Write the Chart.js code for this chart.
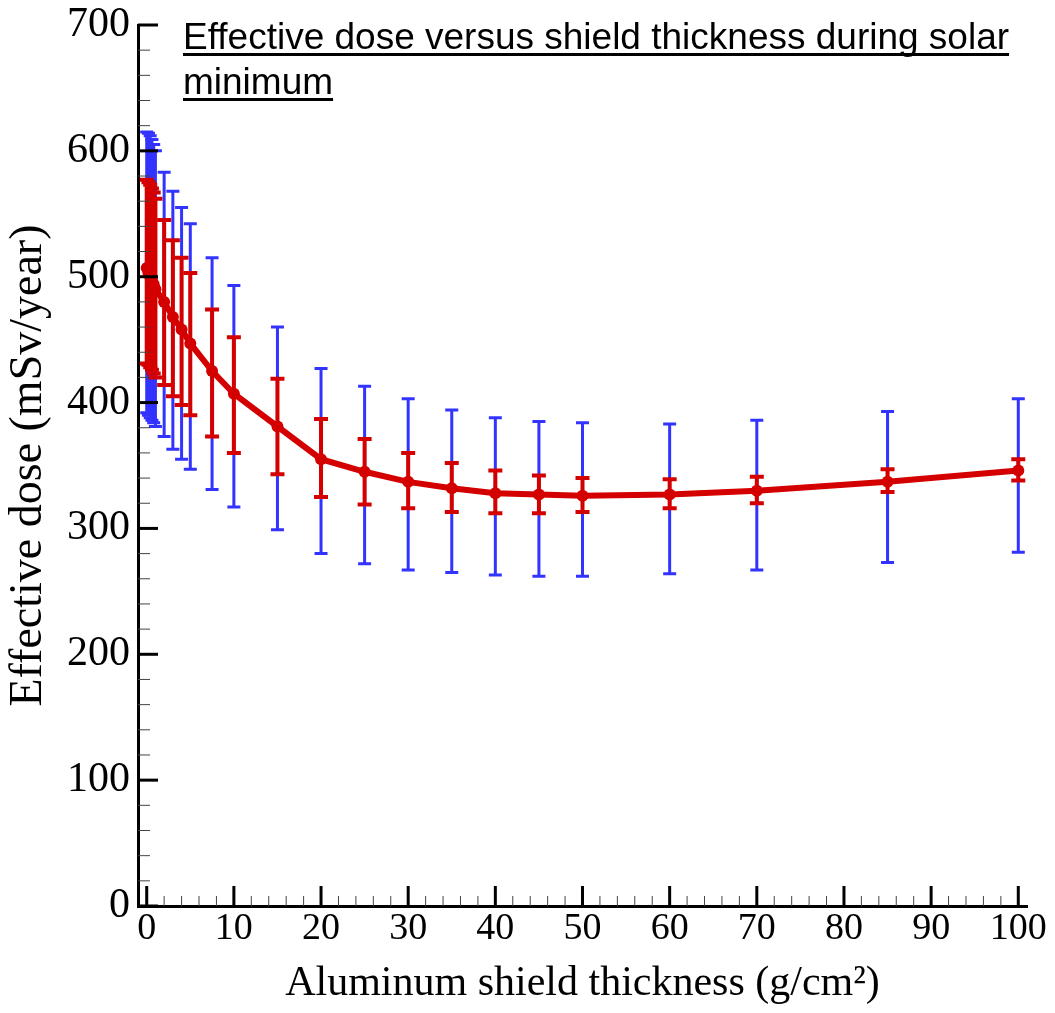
<!DOCTYPE html>
<html>
<head>
<meta charset="utf-8">
<script src="https://cdn.jsdelivr.net/npm/chart.js@4.4.0/dist/chart.umd.min.js"></script>
<style>
  body { margin: 0; background: #fff; }
  #wrap { width: 1055px; height: 1013px; }
</style>
</head>
<body>
<div id="wrap"><canvas id="grafico"></canvas></div>
<script>
// datos
const espesor = [0, 0.2, 0.4, 0.6, 0.8, 1, 2, 3, 4, 5, 7.5, 10, 15, 20, 25, 30, 35, 40, 45, 50, 60, 70, 85, 100];
const dosis   = [507, 503, 500, 497, 494, 490, 480, 468, 458, 447, 425, 407, 381, 355, 345, 337, 332, 328, 327, 326, 327, 330, 337, 346];
// barras rojas (interior)
const rojoBajo = [431, 430, 428, 426, 423, 420, 414, 405, 398, 390, 373, 360, 343, 325, 319, 316, 313, 312, 312, 313, 316, 320, 329, 338];
const rojoAlto = [577, 575, 573, 570, 567, 562, 545, 529, 515, 503, 474, 452, 419, 387, 371, 360, 352, 346, 342, 340, 339, 341, 347, 355];
// barras azules (exterior)
const azulBajo = [392, 390, 388, 386, 384, 381, 373, 363, 355, 347, 331, 317, 299, 280, 272, 267, 265, 263, 262, 262, 264, 267, 273, 281];
const azulAlto = [615, 614, 612, 609, 605, 600, 583, 568, 555, 542, 515, 493, 460, 427, 413, 403, 394, 388, 385, 384, 383, 386, 393, 403];

const ticksX = [0, 10, 20, 30, 40, 50, 60, 70, 80, 90, 100];
const ticksY = [0, 100, 200, 300, 400, 500, 600, 700];

const rojo = '#d40000';
const azul = '#3333ff';
const serif = "'Liberation Serif', 'Times New Roman', serif";
const sans = "'Liberation Sans', Arial, sans-serif";

function dibujarBarras(ctx, sx, sy, bajos, altos, color, ancho, cap) {
    ctx.save();
    ctx.strokeStyle = color;
    ctx.lineWidth = ancho;
    ctx.lineCap = 'butt';
    for (let i = 0; i < espesor.length; i++) {
        const px = sx.getPixelForValue(espesor[i]);
        const y1 = sy.getPixelForValue(bajos[i]);
        const y2 = sy.getPixelForValue(altos[i]);
        ctx.beginPath();
        ctx.moveTo(px, y1);
        ctx.lineTo(px, y2);
        ctx.moveTo(px - cap, y1);
        ctx.lineTo(px + cap, y1);
        ctx.moveTo(px - cap, y2);
        ctx.lineTo(px + cap, y2);
        ctx.stroke();
    }
    ctx.restore();
}

const barrasError = {
    id: 'barrasError',
    beforeDatasetsDraw(chart) {
        const { ctx, scales: { x, y } } = chart;
        dibujarBarras(ctx, x, y, azulBajo, azulAlto, azul, 3, 6.5);
        dibujarBarras(ctx, x, y, rojoBajo, rojoAlto, rojo, 4, 7);
    }
};

// marcas hacia adentro, como en Tecplot
const marcas = {
    id: 'marcas',
    afterDraw(chart) {
        const { ctx, scales: { x, y }, chartArea: a } = chart;
        ctx.save();
        for (let v = 0; v <= 700; v += 20) {
            const py = y.getPixelForValue(v);
            const mayor = v % 100 === 0;
            ctx.strokeStyle = mayor ? '#000' : '#444';
            ctx.lineWidth = mayor ? 3 : 1;
            ctx.beginPath();
            ctx.moveTo(a.left, py);
            ctx.lineTo(a.left + (mayor ? 20 : 12), py);
            ctx.stroke();
        }
        for (let v = 0; v <= 100; v += 2) {
            const px = x.getPixelForValue(v);
            const mayor = v % 10 === 0;
            ctx.strokeStyle = mayor ? '#000' : '#444';
            ctx.lineWidth = mayor ? 3 : 1;
            ctx.beginPath();
            ctx.moveTo(px, a.bottom);
            ctx.lineTo(px, a.bottom - (mayor ? 20 : 10));
            ctx.stroke();
        }

        // titulo subrayado dentro del grafico
        ctx.fillStyle = '#000';
        ctx.font = '37px ' + sans;
        ctx.textBaseline = 'alphabetic';
        const lineas = ['Effective dose versus shield thickness during solar', 'minimum'];
        const bases = [49, 94];
        lineas.forEach((t, i) => {
            ctx.fillText(t, 183, bases[i]);
            const w = ctx.measureText(t).width;
            ctx.fillRect(183, bases[i] + 4, w, 3);
        });
        ctx.restore();
    }
};

const ctx = document.getElementById('grafico').getContext('2d');

new Chart(ctx, {
    type: 'scatter',
    data: {
        datasets: [{
            label: 'Effective dose',
            data: espesor.map((e, i) => ({ x: e, y: dosis[i] })),
            showLine: true,
            borderColor: rojo,
            backgroundColor: rojo,
            borderWidth: 6,
            pointRadius: 6,
            pointBorderWidth: 0,
            pointHoverRadius: 6
        }]
    },
    options: {
        responsive: true,
        maintainAspectRatio: false,
        animation: false,
        layout: { padding: { top: 25, right: 28, left: 0, bottom: 0 } },
        plugins: {
            legend: { display: false },
            tooltip: { enabled: false }
        },
        scales: {
            x: {
                type: 'linear',
                min: -1,
                max: 101,
                afterFit: s => { s.height = 107; },
                afterBuildTicks: s => { s.ticks = ticksX.map(v => ({ value: v })); },
                grid: { display: false },
                border: { display: true, color: '#000', width: 3 },
                ticks: {
                    color: '#000',
                    padding: -4,
                    font: { family: serif, size: 38, lineHeight: 1 }
                },
                title: {
                    display: true,
                    text: 'Aluminum shield thickness (g/cm²)',
                    color: '#000',
                    font: { family: serif, size: 42, lineHeight: 1.1 },
                    padding: { top: 0, bottom: 6 }
                }
            },
            y: {
                type: 'linear',
                min: 0,
                max: 700,
                afterFit: s => { s.width = 138; },
                afterBuildTicks: s => { s.ticks = ticksY.map(v => ({ value: v })); },
                grid: { display: false },
                border: { display: true, color: '#000', width: 3 },
                ticks: {
                    color: '#000',
                    padding: 0,
                    font: { family: serif, size: 42, lineHeight: 1 }
                },
                title: {
                    display: true,
                    text: 'Effective dose (mSv/year)',
                    color: '#000',
                    font: { family: serif, size: 46, lineHeight: 1.1 },
                    padding: { top: 4, bottom: 0 }
                }
            }
        }
    },
    plugins: [barrasError, marcas]
});
</script>
</body>
</html>
